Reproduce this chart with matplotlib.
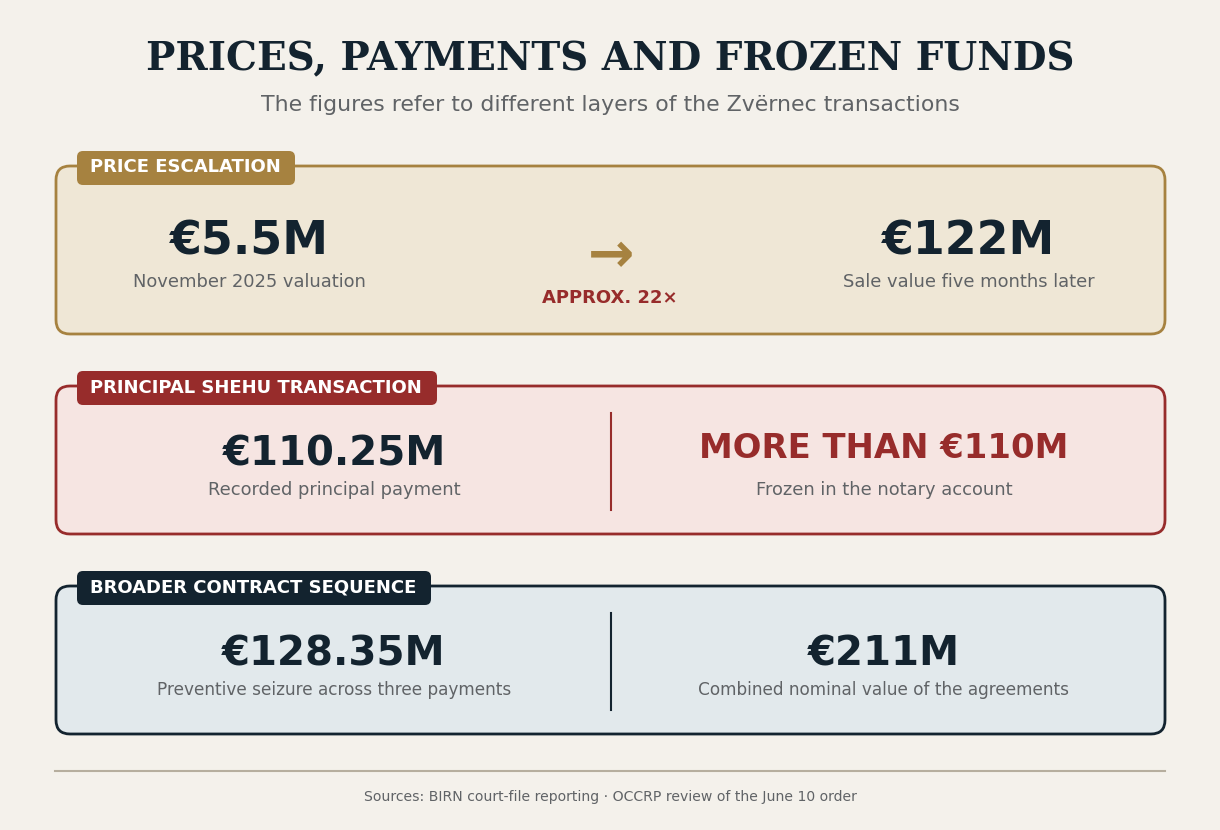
import matplotlib
matplotlib.use("Agg")
import matplotlib.pyplot as plt
from matplotlib.patches import FancyBboxPatch

plt.rcParams["font.family"] = "DejaVu Sans"

# ---- content ----
title = "PRICES, PAYMENTS AND FROZEN FUNDS"
subtitle = "The figures refer to different layers of the Zvërnec transactions"
source = "Sources: BIRN court-file reporting \u00b7 OCCRP review of the June 10 order"

panel_titles = ["PRICE ESCALATION", "PRINCIPAL SHEHU TRANSACTION", "BROADER CONTRACT SEQUENCE"]
left_values = ["€5.5M", "€110.25M", "€128.35M"]
left_captions = ["November 2025 valuation", "Recorded principal payment",
                 "Preventive seizure across three payments"]
right_values = ["€122M", "MORE THAN €110M", "€211M"]
right_captions = ["Sale value five months later", "Frozen in the notary account",
                  "Combined nominal value of the agreements"]
ratio_label = "APPROX. 22×"

# ---- style ----
BG = "#f4f1eb"
NAVY = "#13232f"
GOLD = "#a68240"
RED = "#972c2b"
GREY = "#606366"
edge_colors = [GOLD, RED, NAVY]
fill_colors = ["#efe7d6", "#f6e5e2", "#e2e9ec"]
right_colors = [NAVY, RED, NAVY]

W, H = 1220, 830
fig = plt.figure(figsize=(W / 100, H / 100), dpi=100, facecolor=BG)
ax = fig.add_axes([0, 0, 1, 1])
ax.set_xlim(0, W)
ax.set_ylim(H, 0)
ax.axis("off")

ax.text(610, 70, title, ha="center", va="baseline", fontsize=28,
        fontweight="bold", family="DejaVu Serif", color=NAVY)
ax.text(610, 111, subtitle, ha="center", va="baseline", fontsize=15.8, color=GREY)

box_left, box_right = 56, 1165
box_tops = [166, 386, 586]
tag_widths = [218, 360, 354]
cap_sizes = [12.9, 12.9, 12.2]  # long captions in the last panel are set smaller

for i, top in enumerate(box_tops):
    h = 168 if i == 0 else 148
    box = FancyBboxPatch((box_left, top), box_right - box_left, h,
                         boxstyle="round,pad=0,rounding_size=14",
                         facecolor=fill_colors[i], edgecolor=edge_colors[i], linewidth=2)
    ax.add_patch(box)
    tag = FancyBboxPatch((77, top - 15), tag_widths[i], 34,
                         boxstyle="round,pad=0,rounding_size=6",
                         facecolor=edge_colors[i], edgecolor="none")
    ax.add_patch(tag)
    ax.text(90, top + 6.5, panel_titles[i], ha="left", va="baseline",
            fontsize=13, fontweight="bold", color="white")

    if i == 0:
        lx, rx = 249, 969
        vy, cy, fs = 254, 287, 33
    else:
        lx, rx = 334, 884
        vy, cy, fs = top + 79, top + 109, 29
        ax.plot([611, 611], [top + 27, top + 124], color=edge_colors[i], lw=1.5)

    ax.text(lx, vy, left_values[i], ha="center", va="baseline", fontsize=fs,
            fontweight="bold", color=NAVY)
    ax.text(lx, cy, left_captions[i], ha="center", va="baseline",
            fontsize=cap_sizes[i], color=GREY)
    rfs = 24.4 if i == 1 else fs
    ry = top + 72 if i == 1 else vy
    ax.text(rx, ry, right_values[i], ha="center", va="baseline", fontsize=rfs,
            fontweight="bold", color=right_colors[i])
    ax.text(rx, cy, right_captions[i], ha="center", va="baseline",
            fontsize=cap_sizes[i], color=GREY)

# arrow and ratio in the first panel
ax.text(611, 257, "→", ha="center", va="center", fontsize=40, fontweight="bold", color=GOLD)
ax.text(610, 303, ratio_label, ha="center", va="baseline", fontsize=13,
        fontweight="bold", color=RED)

ax.plot([55, 1165], [771, 771], color="#b6ae9e", lw=1.5)
ax.text(610, 801, source, ha="center", va="baseline", fontsize=10.1, color=GREY)

fig.savefig("out.png", dpi=100, facecolor=BG)
